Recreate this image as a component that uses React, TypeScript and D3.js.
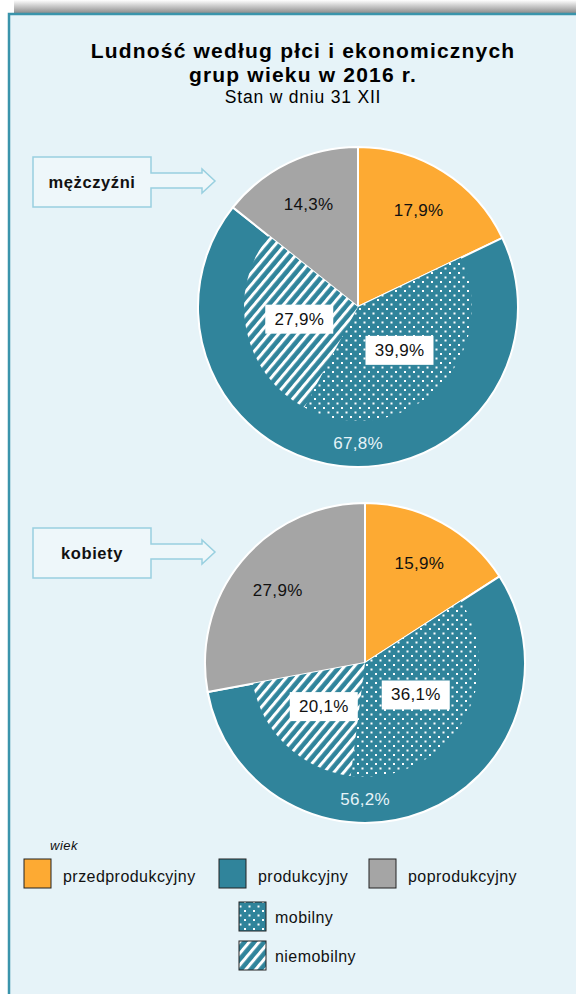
import { useRef, useEffect } from 'react';
import * as d3 from 'd3';

// Economic age groups (share of population, %)
const groups = ['przedprodukcyjny', 'produkcyjny', 'poprodukcyjny'];
const groupColors = ['#fdaa33', '#30849b', '#a5a5a5'];
const subGroups = ['mobilny', 'niemobilny'];

const panels = ['mężczyźni', 'kobiety'];
const groupValues = [
    [17.9, 67.8, 14.3],
    [15.9, 56.2, 27.9],
];
const subValues = [
    [39.9, 27.9],
    [36.1, 20.1],
];

const fmt = (v: number) => v.toFixed(1).replace('.', ',') + '%';

const W = 576;
const H = 994;
const FONT = "'Liberation Sans', Arial, Helvetica, sans-serif";

export default function App() {
    const svgRef = useRef<SVGSVGElement>(null);

    useEffect(() => {
        if (!svgRef.current) return;
        const svg = d3.select(svgRef.current);
        svg.selectAll('*').remove();

        const defs = svg.append('defs');

        // top shadow
        const sh = defs.append('linearGradient')
            .attr('id', 'shadow')
            .attr('x1', 0).attr('y1', 0).attr('x2', 0).attr('y2', 1);
        sh.append('stop').attr('offset', '0%').attr('stop-color', '#ffffff');
        sh.append('stop').attr('offset', '100%').attr('stop-color', '#8e8e8e');

        // dotted pattern (mobilny)
        const dots = defs.append('pattern')
            .attr('id', 'dots')
            .attr('patternUnits', 'userSpaceOnUse')
            .attr('width', 9).attr('height', 9);
        dots.append('rect').attr('width', 9).attr('height', 9).attr('fill', groupColors[1]);
        dots.append('rect').attr('x', 1).attr('y', 1).attr('width', 2).attr('height', 2).attr('fill', '#fff');
        dots.append('rect').attr('x', 5.5).attr('y', 5.5).attr('width', 2).attr('height', 2).attr('fill', '#fff');

        // hatched pattern (niemobilny)
        const hatch = defs.append('pattern')
            .attr('id', 'hatch')
            .attr('patternUnits', 'userSpaceOnUse')
            .attr('width', 7.5).attr('height', 7.5)
            .attr('patternTransform', 'rotate(40)');
        hatch.append('rect').attr('width', 7.5).attr('height', 7.5).attr('fill', groupColors[1]);
        hatch.append('rect').attr('width', 3).attr('height', 7.5).attr('fill', '#fff');

        // frame
        svg.append('rect').attr('width', W).attr('height', H).attr('fill', '#fff');
        svg.append('rect')
            .attr('x', 14).attr('y', 0).attr('width', W - 14).attr('height', 13)
            .attr('fill', 'url(#shadow)');
        svg.append('rect')
            .attr('x', 9).attr('y', 14).attr('width', W).attr('height', H)
            .attr('fill', '#e6f3f8')
            .attr('stroke', '#3a94ab')
            .attr('stroke-width', 2.5);

        // title
        const title = svg.append('g').attr('font-family', FONT).attr('text-anchor', 'middle');
        title.append('text').attr('x', 303).attr('y', 58)
            .attr('font-size', 21).attr('font-weight', 'bold').attr('fill', '#000')
            .attr('letter-spacing', 1.2)
            .text('Ludność według płci i ekonomicznych');
        title.append('text').attr('x', 303).attr('y', 82)
            .attr('font-size', 21).attr('font-weight', 'bold').attr('fill', '#000')
            .attr('letter-spacing', 1.2)
            .text('grup wieku w 2016 r.');
        title.append('text').attr('x', 303).attr('y', 103)
            .attr('font-size', 17.5).attr('fill', '#000')
            .attr('letter-spacing', 0.8)
            .text('Stan w dniu 31 XII');

        const R = 160;
        const innerR = 114;
        const centers = [[358, 307], [365, 663]];
        const boxTops = [157, 528];

        const pie = d3.pie<number>().sort(null).value(d => d);
        const arc = d3.arc<d3.PieArcDatum<number>>().innerRadius(0).outerRadius(R);
        const innerArc = d3.arc<d3.PieArcDatum<number>>().innerRadius(0).outerRadius(innerR);

        panels.forEach((name, i) => {
            const [cx, cy] = centers[i];

            // arrow label box
            const bt = boxTops[i];
            const path = d3.path();
            path.moveTo(33, bt);
            path.lineTo(151, bt);
            path.lineTo(151, bt + 16);
            path.lineTo(202, bt + 16);
            path.lineTo(202, bt + 12);
            path.lineTo(215, bt + 24);
            path.lineTo(202, bt + 36);
            path.lineTo(202, bt + 31);
            path.lineTo(151, bt + 31);
            path.lineTo(151, bt + 50);
            path.lineTo(33, bt + 50);
            path.closePath();
            svg.append('path')
                .attr('d', path.toString())
                .attr('fill', '#eef7fa')
                .attr('stroke', '#99d0e0')
                .attr('stroke-width', 1.5);
            svg.append('text')
                .attr('x', 92).attr('y', bt + 31)
                .attr('text-anchor', 'middle')
                .attr('font-family', FONT).attr('font-size', 16.5).attr('font-weight', 'bold')
                .attr('letter-spacing', 0.6)
                .attr('fill', '#111')
                .text(name);

            const g = svg.append('g').attr('transform', `translate(${cx},${cy})`);
            const arcs = pie(groupValues[i]);

            g.selectAll('path.outer')
                .data(arcs)
                .join('path')
                .attr('class', 'outer')
                .attr('d', arc)
                .attr('fill', (_, j) => groupColors[j])
                .attr('stroke', '#fff')
                .attr('stroke-width', 2);

            // inner split of produkcyjny
            const prodStart = arcs[1].startAngle;
            const prodEnd = arcs[1].endAngle;
            const subArcs = d3.pie<number>().sort(null).value(d => d)
                .startAngle(prodStart).endAngle(prodEnd)(subValues[i]);
            g.selectAll('path.inner')
                .data(subArcs)
                .join('path')
                .attr('class', 'inner')
                .attr('d', innerArc)
                .attr('fill', (_, j) => (j === 0 ? 'url(#dots)' : 'url(#hatch)'));

            // outer labels
            const labelArc = d3.arc<d3.PieArcDatum<number>>().innerRadius(2 * R * 0.71).outerRadius(0);
            arcs.forEach((a, j) => {
                let x: number, y: number;
                if (j === 1) {
                    x = 0;
                    y = R * 0.85;
                } else {
                    [x, y] = labelArc.centroid(a);
                }
                g.append('text')
                    .attr('x', x).attr('y', y)
                    .attr('text-anchor', 'middle')
                    .attr('dominant-baseline', 'central')
                    .attr('font-family', FONT).attr('font-size', 17)
                    .attr('letter-spacing', 0.3)
                    .attr('fill', j === 1 ? '#e6f3f8' : '#111')
                    .text(fmt(a.value));
            });

            // inner labels with white boxes
            const subLabelArc = d3.arc<d3.PieArcDatum<number>>().innerRadius(2 * 60).outerRadius(0);
            subArcs.forEach(a => {
                const [x, y] = subLabelArc.centroid(a);
                const bw = 68;
                const bh = 29;
                g.append('rect')
                    .attr('x', x - bw / 2).attr('y', y - bh / 2)
                    .attr('width', bw).attr('height', bh)
                    .attr('fill', '#fff');
                g.append('text')
                    .attr('x', x).attr('y', y)
                    .attr('text-anchor', 'middle')
                    .attr('dominant-baseline', 'central')
                    .attr('font-family', FONT).attr('font-size', 17)
                    .attr('letter-spacing', 0.3)
                    .attr('fill', '#111')
                    .text(fmt(a.value));
            });
        });

        // legend
        const lg = svg.append('g').attr('font-family', FONT).attr('fill', '#111');
        lg.append('text').attr('x', 50).attr('y', 850)
            .attr('font-size', 13).attr('font-style', 'italic').attr('letter-spacing', 0.5).text('wiek');

        const legendX = [24, 219, 369];
        groups.forEach((name, j) => {
            lg.append('rect')
                .attr('x', legendX[j]).attr('y', 859).attr('width', 27).attr('height', 29)
                .attr('fill', groupColors[j]).attr('stroke', '#222').attr('stroke-width', 1);
            lg.append('text')
                .attr('x', legendX[j] + 39).attr('y', 882)
                .attr('font-size', 16).attr('letter-spacing', 0.45).text(name);
        });
        const subFills = ['url(#dots)', 'url(#hatch)'];
        subGroups.forEach((name, j) => {
            const y = 902 + j * 39;
            lg.append('rect')
                .attr('x', 239).attr('y', y).attr('width', 27).attr('height', 29)
                .attr('fill', subFills[j]).attr('stroke', '#222').attr('stroke-width', 1);
            lg.append('text')
                .attr('x', 275).attr('y', y + 21)
                .attr('font-size', 16).attr('letter-spacing', 0.45).text(name);
        });
    }, []);

    return (
        <svg
            ref={svgRef}
            width={W}
            height={H}
            style={{ position: 'absolute', left: 0, top: 0, display: 'block' }}
        />
    );
}
